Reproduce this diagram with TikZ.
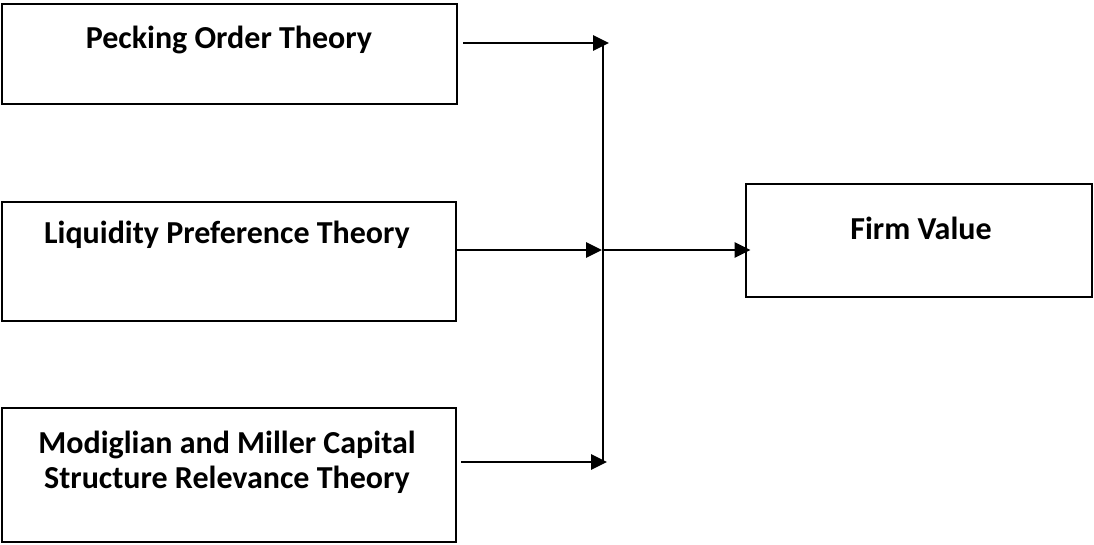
\documentclass[tikz,border=0pt]{standalone}
\usepackage{fontspec}
\setmainfont{Carlito}
\usetikzlibrary{arrows.meta}
\definecolor{frameclr}{RGB}{0,0,0}
\tikzset{
  % Ramkalar
  theorybox/.style = {rectangle, draw=frameclr, line width=2.9pt, inner sep=0pt},
  % Matnlar
  boxlabel/.style  = {font=\fontsize{32}{35}\selectfont\bfseries, inner sep=0pt,
                      anchor=base, align=flush center},
  % O'qlar
  flowarrow/.style = {-{Triangle[length=16pt,width=15pt]}, line width=2.9pt, frameclr},
  busline/.style   = {line width=2.9pt, frameclr},
}

\begin{document}
\begin{tikzpicture}[x=1pt,y=-1pt]
  \useasboundingbox (0,0) rectangle (1094,544);
  % Ramkalar
  \node[theorybox, minimum width=455pt, minimum height=100pt] (pot) at (229.5,54) {};
  \node[theorybox, minimum width=454pt, minimum height=119pt] (lpt) at (229,261.5) {};
  \node[theorybox, minimum width=454pt, minimum height=134pt] (mmt) at (229,475) {};
  \node[theorybox, minimum width=346pt, minimum height=113pt] (fv) at (919,240.5) {};
  % Matnlar
  \node[boxlabel] (potlab) at (229,48.5) {Pecking Order Theory};
  \node[boxlabel] (lptlab) at (227,243) {Liquidity Preference Theory};
  \node[boxlabel, text width=440pt] (mmtlab) at (227,453)
    {Modiglian and Miller Capital\\Structure Relevance Theory};
  \node[boxlabel] (fvlab) at (921,239) {Firm Value};
  % Tutashuv chizig'i
  \coordinate (bustop) at (603,43);
  \coordinate (busmid) at (603,250);
  \coordinate (busbot) at (603,462);
  \draw[busline] (bustop) -- (busbot);
  % O'qlar
  \draw[flowarrow] ([xshift=5pt]pot.east |- bustop) -- ([xshift=6pt]bustop);
  \draw[flowarrow] (lpt.east |- busmid) -- ([xshift=-1pt]busmid);
  \draw[flowarrow] ([xshift=4pt]mmt.east |- busbot) -- ([xshift=4pt]busbot);
  \draw[flowarrow] (busmid) -- ([xshift=6pt]fv.west |- busmid);
\end{tikzpicture}
\end{document}
